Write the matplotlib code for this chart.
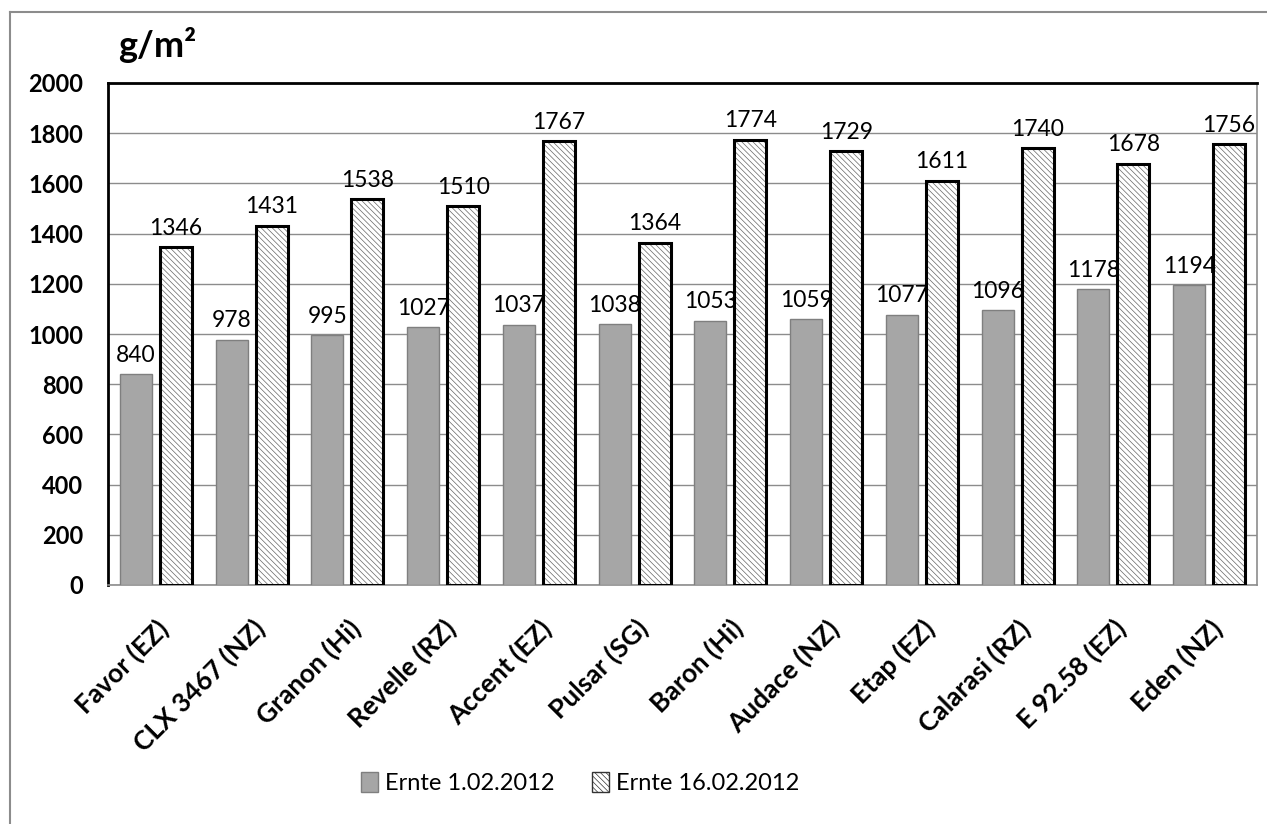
import numpy as np
import matplotlib.pyplot as plt
import matplotlib as mpl

plt.rcParams['font.family'] = ['Lato', 'DejaVu Sans']
mpl.rcParams['hatch.linewidth'] = 0.5

# dati
sorten = ["Favor (EZ)", "CLX 3467 (NZ)", "Granon (Hi)", "Revelle (RZ)", "Accent (EZ)",
          "Pulsar (SG)", "Baron (Hi)", "Audace (NZ)", "Etap (EZ)", "Calarasi (RZ)",
          "E 92.58 (EZ)", "Eden (NZ)"]
ernte_1 = [840, 978, 995, 1027, 1037, 1038, 1053, 1059, 1077, 1096, 1178, 1194]
ernte_2 = [1346, 1431, 1538, 1510, 1767, 1364, 1774, 1729, 1611, 1740, 1678, 1756]
label_1 = "Ernte 1.02.2012"
label_2 = "Ernte 16.02.2012"

fig = plt.figure(figsize=(12.67, 8.24), dpi=100)
ax = fig.add_axes([108/1267, 1-585/824, (1257-108)/1267, (585-83)/824])

x = np.arange(len(sorten))
w = 0.334
off = 0.209

b1 = ax.bar(x - off, ernte_1, w, color='#a6a6a6', edgecolor='#7f7f7f', linewidth=1.0,
            label=label_1, zorder=3)
# tratteggio fitto grigio + contorno nero
ax.bar(x + off, ernte_2, w, color='white', edgecolor='#666666', linewidth=0,
       hatch='\\\\\\\\\\\\', zorder=3)
b2 = ax.bar(x + off, ernte_2, w, fill=False, edgecolor='black', linewidth=2.2, zorder=4)
leg2 = mpl.patches.Patch(facecolor='white', edgecolor='#333333', hatch='\\\\\\\\\\\\',
                         linewidth=1.0, label=label_2)

for rect, v in zip(b1, ernte_1):
    ax.annotate(str(v), (rect.get_x() + rect.get_width()/2, v), xytext=(0, 6),
                textcoords='offset points', ha='center', va='bottom', fontsize=16.5)
for rect, v in zip(b2, ernte_2):
    ax.annotate(str(v), (rect.get_x() + rect.get_width()/2, v), xytext=(0, 6),
                textcoords='offset points', ha='center', va='bottom', fontsize=16.5)

ax.set_ylim(0, 2000)
ax.set_xlim(-0.5, len(sorten) - 0.5)
ax.set_yticks(np.arange(0, 2001, 200))
ax.yaxis.grid(True, color='#8c8c8c', linewidth=1.0, zorder=0)
ax.set_axisbelow(True)
ax.tick_params(axis='y', length=0, pad=18, labelsize=17)
ax.tick_params(axis='x', length=0, pad=22, labelsize=19)
for t in ax.get_yticklabels():
    t.set_fontweight('bold')
ax.set_xticks(x)
ax.set_xticklabels(sorten, rotation=45, ha='right', va='top', rotation_mode='anchor',
                   fontweight='bold')

for s in ['left', 'top']:
    ax.spines[s].set_color('black')
    ax.spines[s].set_linewidth(2.0)
for s in ['right', 'bottom']:
    ax.spines[s].set_color('#8c8c8c')
    ax.spines[s].set_linewidth(1.2)

fig.text(118/1267, 1-45/824, "g/m²", fontsize=26, fontweight='bold', va='center', ha='left')

fig.legend(handles=[b1, leg2], loc='center', bbox_to_anchor=(580/1267, 1-783/824), ncol=2,
           frameon=False, fontsize=17, handlelength=0.7, handleheight=0.9,
           handletextpad=0.3, columnspacing=1.6)

# cornice esterna
fig.add_artist(plt.Line2D([10/1267, 10/1267], [0, 1-12/824], color='#8c8c8c', lw=1.5))
fig.add_artist(plt.Line2D([10/1267, 1], [1-12/824, 1-12/824], color='#8c8c8c', lw=1.5))

fig.savefig("out.png", dpi=100)
plt.close()
